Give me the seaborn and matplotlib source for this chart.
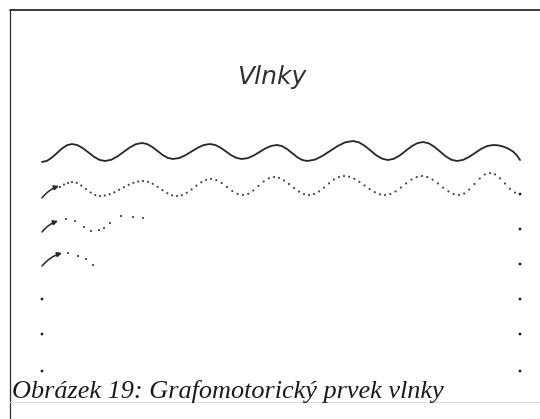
import matplotlib
matplotlib.use("Agg")
import matplotlib.pyplot as plt
import seaborn as sns
import pandas as pd

# page coordinates (x to the right, y downwards, px)
title_text = "Vlnky"
caption_text = "Obrázek 19: Grafomotorický prvek vlnky"

# solid wave
wave_x = [42, 47, 52, 57, 62, 67, 72, 77.5, 83, 88.5, 94, 99.5, 105,
          111.2, 117.3, 123.5, 129.7, 135.8, 142, 147.2, 152.3, 157.5, 162.7, 167.8, 173,
          179.2, 185.3, 191.5, 197.7, 203.8, 210, 215.3, 220.7, 226, 231.3, 236.7, 242,
          247.8, 253.7, 259.5, 265.3, 271.2, 277, 282, 287, 292, 297, 302, 307,
          314.7, 322.3, 330, 337.7, 345.3, 353, 358.8, 364.7, 370.5, 376.3, 382.2, 388,
          393.8, 399.7, 405.5, 411.3, 417.2, 423, 428.7, 434.3, 440, 445.7, 451.3, 457,
          463, 469, 475, 481, 487, 493, 498, 503, 508, 513, 517, 520]
wave_y = [162, 160.8, 157.5, 153, 148.5, 145.2, 144, 145.1, 148.3, 152.5, 156.8, 159.9, 161,
          159.8, 156.5, 152, 147.5, 144.2, 143, 144.1, 147, 151, 155, 157.9, 159,
          158, 155.3, 151.5, 147.8, 145, 144, 145, 147.8, 151.5, 155.3, 158, 159,
          158.1, 155.5, 152, 148.5, 145.9, 145, 146.1, 149, 153, 157, 159.9, 161,
          159.7, 156, 151, 146, 142.3, 141, 142.3, 145.8, 150.5, 155.3, 158.7, 160,
          158.8, 155.5, 151, 146.5, 143.2, 142, 143.3, 146.8, 151.5, 156.3, 159.7, 161,
          159.9, 157, 153, 149, 146.1, 145, 145.3, 146.5, 148.5, 151.5, 155.5, 160]

# dotted wave (row 2)
dots2_x = [60, 64, 68, 72, 76.7, 81.3, 86, 90.7, 95.3, 100,
           104.8, 109.6, 114.3, 119.1, 123.9, 128.7, 133.4, 138.2, 143,
           147.9, 152.7, 157.6, 162.4, 167.3, 172.1, 177,
           181.9, 186.7, 191.6, 196.4, 201.3, 206.1, 211,
           216.3, 221.7, 227, 232.3, 237.7, 243,
           248.2, 253.3, 258.5, 263.7, 268.8, 274,
           279, 284, 289, 294, 299, 304, 309,
           314, 319, 324, 329, 334, 339, 344,
           349.1, 354.3, 359.4, 364.5, 369.6, 374.8, 379.9, 385,
           390.3, 395.6, 400.9, 406.1, 411.4, 416.7, 422,
           427.3, 432.6, 437.9, 443.1, 448.4, 453.7, 459,
           464.2, 469.3, 474.5, 479.7, 484.8, 490,
           495, 500, 505, 510, 515]
dots2_y = [187, 184.5, 183, 182, 182.9, 185.5, 189, 192.5, 195.1, 196,
           195.5, 194.2, 192.3, 189.8, 187.2, 184.8, 182.8, 181.5, 181,
           181.8, 183.8, 186.8, 190.2, 193.2, 195.3, 196,
           195.2, 192.8, 189.4, 185.6, 182.2, 179.9, 179,
           180.1, 183, 187, 191, 193.9, 195,
           193.8, 190.5, 186, 181.5, 178.2, 177,
           177.9, 180.4, 184, 188, 191.6, 194.1, 195,
           194, 191.4, 187.6, 183.4, 179.6, 177, 176,
           176.7, 178.8, 181.9, 185.5, 189.1, 192.2, 194.3, 195,
           194, 191.4, 187.6, 183.4, 179.6, 177, 176,
           177, 179.6, 183.4, 187.6, 191.4, 194, 195,
           193.5, 189.5, 184, 178.5, 174.5, 173,
           174.4, 178.3, 183.5, 188.8, 192.6]

# started dotted waves (rows 3 and 4)
dots3_x = [66, 75, 84, 91, 99, 104, 110, 121, 133, 143]
dots3_y = [219, 221, 227, 231, 230, 228, 223, 216, 217, 218]
dots4_x = [68, 78, 86, 93]
dots4_y = [253, 256, 259, 265]

# single guide dots at the row ends
end_x = [520, 520, 520, 520, 520, 520, 42, 42, 42]
end_y = [194, 229, 264, 299, 334, 371, 299, 334, 371]

# start arrows (tail -> head)
arrow_tail = [(42, 198), (42, 232), (42, 266)]
arrow_head = [(59, 186), (58, 221), (62, 253)]

sns.set_theme(style="white")

fig = plt.figure(figsize=(5.4, 4.19), dpi=100)
ax = fig.add_axes([0, 0, 1, 1])
ax.set_xlim(0, 540)
ax.set_ylim(419, 0)
ax.axis("off")

ink = "#262626"

wave_df = pd.DataFrame({"x": wave_x, "y": wave_y})
sns.lineplot(data=wave_df, x="x", y="y", sort=False, color=ink, lw=1.3, ax=ax)

dots_df = pd.DataFrame({"x": dots2_x + dots3_x + dots4_x,
                        "y": dots2_y + dots3_y + dots4_y})
sns.scatterplot(data=dots_df, x="x", y="y", s=2.4, color="#454545",
                edgecolor="none", ax=ax)

end_df = pd.DataFrame({"x": end_x, "y": end_y})
sns.scatterplot(data=end_df, x="x", y="y", s=4, color="#1a1a1a",
                edgecolor="none", ax=ax)

for tail, head in zip(arrow_tail, arrow_head):
    ax.annotate("", xy=head, xytext=tail,
                arrowprops=dict(arrowstyle="-|>", color=ink, lw=1.1,
                                shrinkA=0, shrinkB=0,
                                connectionstyle="arc3,rad=-0.15",
                                mutation_scale=7))

ax.text(272, 84, title_text, ha="center", va="baseline", fontsize=18,
        style="italic", color="#303030",
        family=["Liberation Sans Narrow", "DejaVu Sans"])

# page frame
ax.plot([10, 540], [10, 10], color="#2b2b2b", lw=1.3)
ax.plot([10, 10], [10, 419], color="#2b2b2b", lw=0.9)
ax.plot([10, 540], [402, 402], color="#e0e0e0", lw=0.8)

ax.text(12, 398, caption_text, ha="left", va="baseline", fontsize=18.9,
        style="italic", color="#1a1a1a", family=["Liberation Serif", "DejaVu Serif"])

fig.savefig("out.png", dpi=100, facecolor="white")
